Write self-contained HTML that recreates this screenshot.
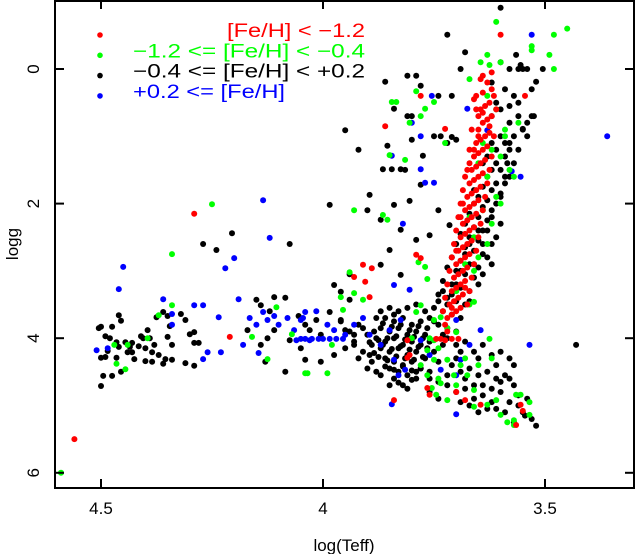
<!DOCTYPE html>
<html><head><meta charset="utf-8"><style>
html,body{margin:0;padding:0;background:#fff;}
svg{display:block;font-family:"Liberation Sans",sans-serif;}
</style></head><body>
<svg id="chart" width="635" height="554">
<g id="marks"></g>
<g id="axes"></g>
<g id="legend"></g>
</svg>
<script>
const xTicks = [4.5, 4, 3.5];
const yTicks = [0, 2, 4, 6];
const seriesNames = ["[Fe/H] < \u22121.2", "\u22121.2 <= [Fe/H] < \u22120.4", "\u22120.4 <= [Fe/H] < +0.2", "+0.2 <= [Fe/H]"];
const redPts = [[3.63,0.2],[3.62,0.3],[3.64,0.35],[3.625,0.5],[3.635,0.55],[3.645,0.6],[3.62,0.7],[3.63,0.75],[3.64,0.8],[3.65,0.9],[3.625,0.95],[3.635,1.0],[3.645,1.05],[3.655,1.1],[3.63,1.15],[3.64,1.2],[3.65,1.25],[3.66,1.3],[3.635,1.35],[3.645,1.4],[3.655,1.45],[3.665,1.5],[3.64,1.55],[3.65,1.6],[3.66,1.65],[3.67,1.7],[3.645,1.75],[3.655,1.8],[3.665,1.85],[3.675,1.9],[3.65,1.95],[3.66,2.0],[3.67,2.05],[3.68,2.1],[3.655,2.15],[3.665,2.2],[3.675,2.25],[3.685,2.3],[3.66,2.35],[3.67,2.4],[3.68,2.45],[3.69,2.5],[3.665,2.55],[3.675,2.6],[3.685,2.65],[3.695,2.7],[3.67,2.75],[3.68,2.8],[3.69,2.85],[3.70,2.9],[3.675,2.95],[3.685,3.0],[3.695,3.05],[3.705,3.1],[3.68,3.15],[3.69,3.2],[3.70,3.25],[3.71,3.3],[3.685,3.35],[3.695,3.4],[3.705,3.45],[3.715,3.5],[3.69,3.55],[3.70,3.6],[3.71,3.65],[3.72,3.7],[3.60,-0.51],[4.29,2.15],[4.21,3.98],[4.56,5.5],[3.91,2.91],[3.89,2.96],[3.905,3.16],[3.93,3.09],[3.895,3.39],[3.725,4.03],[3.745,4.01],[3.735,4.01],[3.71,4.01],[3.695,4.01],[3.81,4.29],[3.765,4.74],[3.76,4.84],[3.645,4.99],[3.555,4.99],[3.55,5.08],[3.565,5.29],[3.79,2.76],[3.78,2.81],[3.81,4.03],[3.805,4.25],[3.84,4.92],[3.70,4.8],[3.68,4.92],[3.78,0.40],[3.86,0.85],[3.725,0.89],[3.545,0.40],[3.655,0.40],
[3.64,0.1],[3.615,0.4],[3.61,0.6],[3.625,0.85],[3.615,1.0],[3.62,1.3],[3.625,1.5],[3.63,1.7],[3.635,1.9],[3.64,2.1],[3.645,2.3],[3.65,2.5],[3.655,2.7],[3.66,2.9],[3.665,3.1],[3.67,3.3],[3.675,3.5],[3.655,0.6],[3.665,0.9],[3.67,1.2],[3.675,1.5],[3.685,1.8],[3.69,2.0],[3.695,2.2],[3.70,2.4],[3.705,2.6],[3.71,2.8],[3.715,3.0],[3.72,3.2],[3.725,3.4],[3.73,3.6],[3.72,3.9],[3.725,3.8],[3.645,0.15],[3.62,0.05],[3.66,0.45],[3.64,0.65],[3.65,1.0],[3.66,1.2],[3.67,1.4],[3.68,1.6],[3.685,2.0],[3.69,2.2],[3.70,2.7],[3.68,3.25],[3.71,3.55],[3.65,0.7]];
const greenPts = [[3.45,-0.6],[3.61,-0.7],[3.48,-0.51],[3.53,-0.34],[3.53,-0.28],[3.49,-0.21],[3.48,0.0],[3.63,-0.21],[3.645,-0.1],[3.625,-0.06],[3.60,-0.1],[3.67,0.15],[3.79,0.33],[3.845,0.49],[3.835,0.49],[3.75,0.49],[3.77,0.59],[3.805,0.8],[3.78,0.7],[3.725,1.1],[3.85,1.28],[3.815,1.35],[3.865,2.17],[3.855,2.24],[3.93,2.1],[4.25,2.01],[4.34,2.75],[4.34,3.51],[4.37,3.66],[4.47,4.1],[4.44,4.1],[4.395,4.0],[4.16,3.98],[4.125,4.31],[4.04,4.52],[4.465,4.38],[4.445,4.46],[4.59,6.0],[4.105,3.54],[4.07,3.94],[3.63,0.4],[3.61,0.6],[3.59,0.9],[3.64,1.1],[3.60,1.3],[3.58,1.5],[3.63,1.6],[3.61,1.9],[3.64,2.1],[3.62,2.3],[3.66,2.5],[3.63,2.6],[3.65,2.8],[3.68,2.9],[3.66,3.0],[3.70,3.3],[3.67,3.5],[3.62,1.2],[3.60,2.0],[3.59,1.0],[3.65,1.4],[3.67,2.2],[3.56,0.8],[3.57,1.6],[3.785,2.87],[3.77,2.94],[3.765,3.12],[3.94,3.02],[3.93,3.33],[3.96,3.39],[3.91,3.43],[3.955,3.58],[3.98,4.1],[4.035,4.52],[3.99,4.52],[3.79,3.61],[3.78,3.51],[3.75,3.73],[3.735,3.69],[3.72,3.85],[3.70,3.91],[3.66,3.46],[3.625,4.01],[3.765,4.18],[3.75,4.32],[3.74,4.15],[3.72,4.32],[3.705,4.55],[3.765,4.55],[3.755,4.74],[3.745,4.84],[3.72,4.92],[3.735,4.67],[3.675,4.55],[3.66,4.77],[3.63,4.99],[3.61,4.92],[3.60,5.14],[3.585,5.25],[3.57,5.22],[3.535,4.95],[3.565,4.84],[3.66,5.02],[3.75,4.03],[3.555,4.84],[3.535,5.14],[3.57,5.29],[3.80,4.0],[3.78,4.4],[3.76,4.0],[3.74,4.6],[3.69,4.4],[3.65,4.4],[3.70,4.7],[3.68,4.3],[3.62,4.3]];
const blackPts = [[3.60,-0.1],[3.58,0.0],[3.56,0.0],[3.55,0.0],[3.62,0.2],[3.59,0.3],[3.57,0.4],[3.61,0.5],[3.60,0.6],[3.56,0.7],[3.62,0.7],[3.58,0.8],[3.55,0.9],[3.57,1.0],[3.60,1.0],[3.62,1.1],[3.58,1.1],[3.56,1.2],[3.61,1.2],[3.63,1.3],[3.59,1.3],[3.57,1.4],[3.61,1.4],[3.62,1.5],[3.60,1.5],[3.58,1.6],[3.63,1.6],[3.61,1.7],[3.59,1.7],[3.64,1.75],[3.62,1.8],[3.60,1.85],[3.65,1.9],[3.63,1.95],[3.61,2.0],[3.66,2.0],[3.64,2.05],[3.62,2.1],[3.67,2.15],[3.65,2.2],[3.63,2.25],[3.68,2.3],[3.66,2.35],[3.64,2.4],[3.69,2.45],[3.67,2.5],[3.65,2.55],[3.62,2.6],[3.70,2.6],[3.68,2.65],[3.66,2.7],[3.64,2.75],[3.71,2.8],[3.69,2.85],[3.67,2.9],[3.65,2.95],[3.72,2.95],[3.70,3.0],[3.68,3.05],[3.66,3.1],[3.73,3.15],[3.71,3.2],[3.69,3.25],[3.67,3.3],[3.74,3.35],[3.72,3.4],[3.70,3.45],[3.68,3.5],[3.75,3.55],[3.73,3.6],[3.71,3.65],[3.69,3.7],[3.76,3.7],[3.74,3.8],[3.72,3.85],[3.70,3.9],
[3.86,3.7],[3.84,3.75],[3.82,3.7],[3.80,3.8],[3.78,3.75],[3.87,3.85],[3.85,3.9],[3.83,3.85],[3.81,3.95],[3.79,3.9],[3.77,3.95],[3.88,4.0],[3.86,4.05],[3.84,4.0],[3.82,4.1],[3.80,4.05],[3.78,4.1],[3.76,4.05],[3.87,4.15],[3.85,4.2],[3.83,4.15],[3.81,4.25],[3.79,4.2],[3.77,4.3],[3.86,4.3],[3.84,4.35],[3.82,4.4],[3.80,4.35],[3.78,4.45],[3.85,4.45],[3.83,4.5],[3.81,4.55],[3.79,4.6],[3.84,4.6],[3.82,4.7],[3.89,4.1],[3.90,3.95],[3.91,4.2],[3.89,4.35],[3.88,4.5],[3.75,4.2],[3.74,4.35],[3.73,4.1],[3.76,4.5],[3.77,3.6],[3.79,3.5],[3.81,3.55],[3.83,3.6],[3.85,3.55],[3.87,3.6],[3.92,3.8],[3.93,4.05],[3.94,3.9],[3.95,4.15],[3.96,3.75],
[3.72,4.0],[3.70,4.1],[3.68,4.05],[3.66,4.2],[3.64,4.1],[3.62,4.25],[3.60,4.2],[3.58,4.3],[3.71,4.4],[3.69,4.5],[3.67,4.45],[3.65,4.55],[3.63,4.5],[3.61,4.6],[3.59,4.55],[3.57,4.7],[3.72,4.7],[3.70,4.8],[3.68,4.75],[3.66,4.9],[3.64,4.85],[3.62,4.95],[3.60,4.8],[3.58,4.95],[3.56,5.0],[3.55,5.1],[3.53,5.2],[3.57,5.25],[3.67,5.0],[3.61,5.05],[3.74,4.9],[3.76,4.8],[3.43,4.1],
[4.505,3.85],[4.50,3.83],[4.49,3.97],[4.48,4.0],[4.475,3.83],[4.46,3.66],[4.455,3.74],[4.465,4.06],[4.485,4.19],[4.49,4.28],[4.495,4.56],[4.50,4.29],[4.465,4.29],[4.46,4.13],[4.445,4.06],[4.44,4.21],[4.435,4.13],[4.43,4.07],[4.43,4.21],[4.425,4.31],[4.415,4.12],[4.41,3.97],[4.405,4.0],[4.40,4.15],[4.39,4.0],[4.385,4.21],[4.38,4.1],[4.37,4.25],[4.385,4.35],[4.40,4.34],[4.395,3.88],[4.375,3.69],[4.36,3.61],[4.35,3.67],[4.345,3.82],[4.35,3.98],[4.34,4.1],[4.355,4.31],[4.34,4.32],[4.36,4.38],[4.32,3.64],[4.31,3.73],[4.30,3.94],[4.29,3.91],[4.29,4.07],[4.28,4.07],[4.29,4.41],[4.31,4.37],[4.455,4.5],[4.475,4.56],[4.50,4.71],[4.27,2.6],[4.24,2.69],[4.205,2.44],[4.11,3.39],[4.075,2.6],[3.985,2.02],[4.15,3.43],[4.14,3.51],[4.12,3.6],[4.085,3.4],[4.055,3.67],[4.04,3.8],[4.03,3.88],[4.11,3.88],[4.125,4.0],[4.075,4.03],[4.05,4.15],[4.14,4.1],[4.17,3.88],[4.005,3.95],[4.015,3.73],[3.985,3.61],[3.96,3.73],[3.94,3.43],[3.95,3.88],[3.93,4.1],[3.975,4.25],[4.005,4.35],[4.04,4.32],[4.085,4.5],[4.13,4.35],[3.975,3.21],[3.96,3.31],[3.94,3.05],
[3.60,-0.91],[3.72,-0.51],[3.68,-0.25],[3.69,0.0],[3.565,-0.21],[3.555,-0.06],[3.54,0.0],[3.505,0.0],[3.52,0.19],[3.53,0.3],[3.86,0.19],[3.81,0.1],[3.79,0.1],[3.78,0.25],[3.71,0.4],[3.74,0.4],[3.84,0.59],[3.81,0.7],[3.80,0.7],[3.53,0.7],[3.54,0.8],[3.525,0.7],[3.55,0.89],[3.54,1.0],[3.855,1.14],[3.75,1.0],[3.735,1.0],[3.72,1.1],[3.775,1.29],[3.80,1.05],[3.845,1.49],[3.865,1.49],[3.825,1.49],[3.95,0.91],[3.92,1.2],[3.895,1.87],[3.90,2.1],[3.87,2.24],[3.85,2.69],[3.825,2.39],[3.805,1.96],[3.84,2.02],[3.78,1.72],[3.76,2.47],[3.79,2.54],[3.87,2.91],[3.825,3.06],[3.74,2.1],[3.715,2.32],[3.71,1.01],[3.70,1.05],[3.815,1.5],
[3.69,3.0],[3.70,3.2],[3.72,3.5],[3.73,3.3],[3.66,2.9],[3.64,2.6],[3.63,2.4],[3.62,2.2],[3.60,1.9],[3.59,1.6],[3.585,1.4],[3.58,1.2],[3.59,1.1],[3.56,0.5],[3.58,0.55],[3.64,1.4],[3.66,1.8],[3.65,2.4],[3.67,2.6],[3.68,2.75],[3.71,3.35],[3.74,3.45],[3.75,3.75],[3.73,3.95],[3.60,2.3],[3.61,2.5],[3.63,2.8],[3.65,3.2],[3.67,3.45],[3.64,3.05],[3.62,2.9],
[3.765,3.85],[3.785,3.82],[3.805,3.88],[3.825,3.8],[3.845,3.83],[3.865,3.78],[3.885,3.9],[3.775,4.0],[3.795,3.98],[3.815,4.02],[3.835,3.97],[3.855,4.0],[3.875,4.03],[3.895,4.06],[3.765,4.15],[3.785,4.13],[3.805,4.17],[3.825,4.12],[3.845,4.16],[3.865,4.1],[3.885,4.22],[3.775,4.28],[3.795,4.32],[3.815,4.3],[3.835,4.27],[3.855,4.33],[3.875,4.28],[3.895,4.25],[3.78,4.45],[3.80,4.48],[3.82,4.42],[3.84,4.47],[3.86,4.42],[3.87,4.55],[3.80,4.62],[3.83,4.66],[3.85,4.7],[3.81,4.75],[3.79,4.5],[3.76,4.6],[3.92,4.3],[3.90,4.45],[3.91,3.85],[3.93,3.95],[3.88,3.7],[3.84,3.65],
[3.70,4.3],[3.68,4.6],[3.66,4.7],[3.64,4.7],[3.62,4.75],[3.60,4.65],[3.58,4.6],[3.56,4.85],[3.59,5.1],[3.63,5.05],[3.65,5.1],[3.69,4.95],[3.72,4.55],[3.74,4.65],[3.54,4.9],[3.545,5.15],[3.52,5.3],[3.57,4.4],[3.61,4.4],[3.65,4.3],[3.69,4.2]];
const bluePts = [[3.53,-0.51],[3.36,1.0],[3.675,0.59],[3.755,0.4],[3.80,0.8],[3.78,1.0],[3.845,1.29],[3.78,1.49],[3.77,1.69],[3.75,1.69],[3.63,0.91],[3.555,1.6],[3.575,1.52],[3.82,2.3],[4.45,2.94],[4.46,3.27],[4.135,1.95],[4.12,2.51],[4.20,2.81],[4.22,2.96],[4.36,3.42],[4.19,3.42],[4.29,3.51],[4.27,3.51],[4.34,3.64],[4.34,3.8],[4.235,3.69],[4.485,4.15],[4.51,4.18],[4.26,4.21],[4.23,4.21],[4.27,4.31],[4.145,4.22],[4.18,4.1],[4.165,3.7],[4.15,3.8],[4.135,3.61],[4.125,3.73],[4.11,3.67],[4.10,3.8],[4.08,3.7],[4.065,3.88],[4.05,3.73],[4.04,3.61],[4.03,4.03],[4.06,4.03],[4.05,4.01],[4.04,4.01],[4.025,4.01],[4.01,4.01],[4.0,4.01],[3.985,4.01],[3.97,4.01],[3.955,4.01],[4.045,3.7],[4.015,3.6],[3.99,3.8],[3.975,3.88],[3.95,3.95],[3.93,3.8],[3.91,3.7],[3.895,3.95],[3.87,4.1],[3.85,3.88],[3.825,3.73],[3.84,4.32],[3.815,4.47],[3.83,4.55],[3.78,4.03],[3.76,4.25],[3.735,4.47],[3.70,4.55],[3.69,4.32],[3.67,4.1],[3.645,3.88],[3.70,3.73],[3.84,3.21],[3.805,3.28],[3.845,4.98],[3.70,5.13],[3.535,4.1]];

const L=55,R=634,T=0,B=488;
function xs(t){return 323+(4-t)*444;}
function ys(g){return 69+g*67.3;}
const NS="http://www.w3.org/2000/svg";
function mk(tag,attrs,parent){const e=document.createElementNS(NS,tag);for(const k in attrs)e.setAttribute(k,attrs[k]);parent.appendChild(e);return e;}
const marks=document.getElementById('marks');
const series=[[blackPts,'#000','black'],[bluePts,'#0000ff','blue'],[greenPts,'#00ff00','green'],[redPts,'#ff0000','red']];
series.forEach(s=>{
  s[0].forEach(p=>{
    const c=mk('circle',{cx:xs(p[0]).toFixed(1),cy:ys(p[1]).toFixed(1),r:3,fill:s[1]},marks);
    
    
  });
});
const axes=document.getElementById('axes');
const frame=mk('rect',{x:L,y:T+1,width:R-L,height:B-T-1,fill:'none',stroke:'#000','stroke-width':2},axes);


xTicks.forEach(v=>{
  const x=xs(v);
  mk('line',{x1:x,x2:x,y1:B,y2:B-9,stroke:'#000','stroke-width':2},axes);
  mk('line',{x1:x,x2:x,y1:T,y2:T+9,stroke:'#000','stroke-width':2},axes);
  const t=mk('text',{x:x,y:514,'text-anchor':'middle','font-size':17},axes);
  t.textContent=String(v);
  
  
});
yTicks.forEach(v=>{
  const y=ys(v);
  mk('line',{x1:L,x2:L+9,y1:y,y2:y,stroke:'#000','stroke-width':2},axes);
  mk('line',{x1:R,x2:R-9,y1:y,y2:y,stroke:'#000','stroke-width':2},axes);
  const t=mk('text',{x:0,y:0,'text-anchor':'middle','font-size':17,transform:`translate(39,${y}) rotate(-90)`},axes);
  t.textContent=String(v);
  
  
});
const xt=mk('text',{x:344,y:551,'text-anchor':'middle','font-size':17},axes);
xt.textContent='log(Teff)';


const yt=mk('text',{x:0,y:0,'text-anchor':'middle','font-size':17,transform:'translate(18,244) rotate(-90)'},axes);
yt.textContent='logg';


const legend=document.getElementById('legend');
const lcolors=['#ff0000','#00ff00','#000000','#0000ff'];
const lstart=[227,133,133,133];
const llen=[138,232,232,152];
seriesNames.forEach((n,i)=>{
  const y=35+i*20.3;
  const d=mk('circle',{cx:100,cy:y,r:2.8,fill:lcolors[i]},legend);
  
  
  const t=mk('text',{x:lstart[i],y:y+2,'font-size':19,fill:lcolors[i],textLength:llen[i],lengthAdjust:'spacingAndGlyphs'},legend);
  t.textContent=n;
  
  
});
</script>
</body></html>
